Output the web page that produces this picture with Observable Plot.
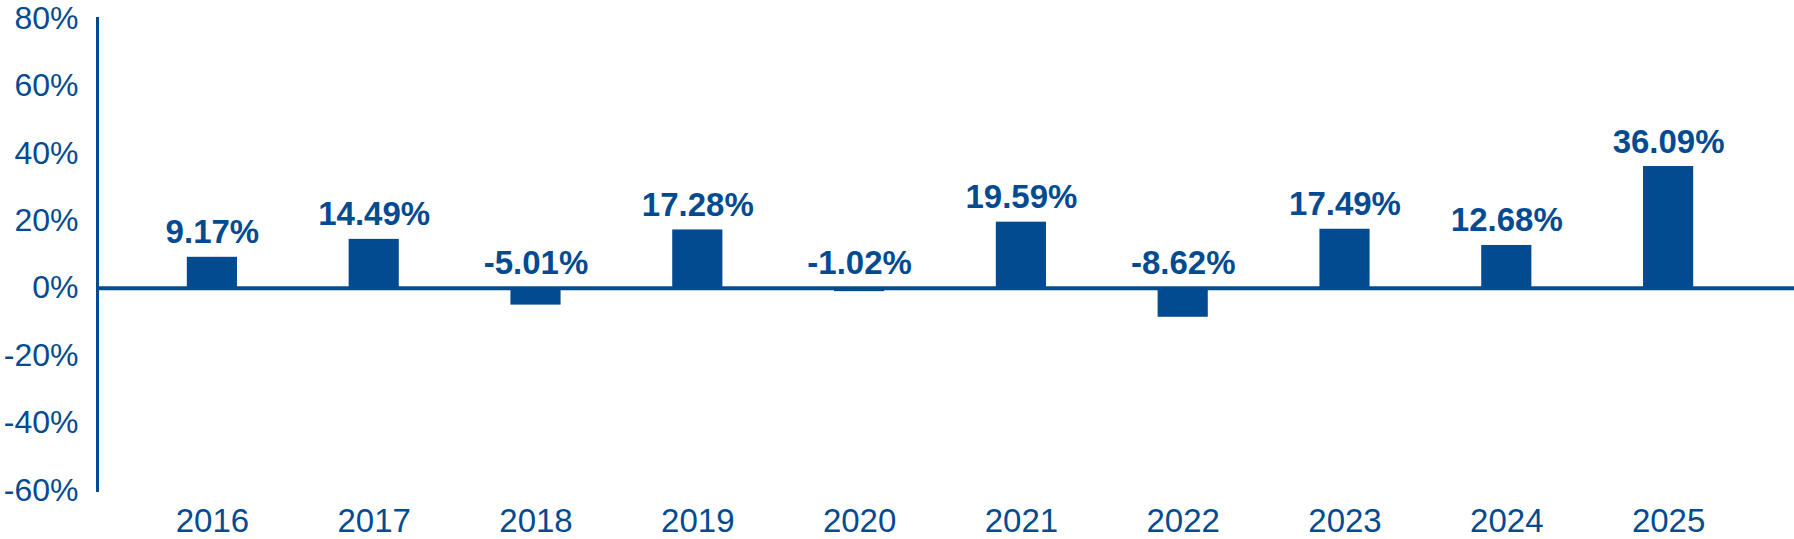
<!DOCTYPE html>
<html>
<head>
<meta charset="utf-8">
<script src="https://cdn.jsdelivr.net/npm/d3@7"></script>
<script src="https://cdn.jsdelivr.net/npm/@observablehq/plot@0.6"></script>
<style>
  html, body { margin: 0; padding: 0; background: #ffffff; }
  #chart svg { display: block; }
</style>
</head>
<body>
<div id="chart"></div>
<script>
const years = ["2016", "2017", "2018", "2019", "2020", "2021", "2022", "2023", "2024", "2025"];
const returns = [9.17, 14.49, -5.01, 17.28, -1.02, 19.59, -8.62, 17.49, 12.68, 36.09];
const yTicks = [-60, -40, -20, 0, 20, 40, 60, 80];

const blue = "#034b91";
const data = years.map((year, i) => ({year, value: returns[i]}));

const chart = Plot.plot({
  width: 1794,
  height: 539,
  marginLeft: 97,
  marginRight: 0,
  marginTop: 18,
  marginBottom: 49,
  style: {background: "#ffffff", color: blue, fontFamily: "'Liberation Sans', Arial, sans-serif"},
  x: {domain: years, range: [131, 1749], paddingInner: 0.69, paddingOuter: 0.345, round: false, label: null},
  y: {domain: [-60, 80], label: null},
  marks: [
    Plot.barY(data, {x: "year", y: "value", fill: blue}),
    Plot.ruleY([0], {stroke: blue, strokeWidth: 4}),
    Plot.frame({anchor: "left", stroke: blue, strokeWidth: 3}),
    Plot.axisY({ticks: yTicks, tickSize: 0, tickPadding: 19, tickFormat: d => d + "%", fontSize: 32, fill: blue, label: null}),
    Plot.axisX({tickSize: 0, tickPadding: 18, fontSize: 33, fill: blue, label: null}),
    Plot.text(data, {
      x: "year",
      y: d => Math.max(d.value, 0),
      text: d => d.value.toFixed(2) + "%",
      lineAnchor: "bottom",
      dy: -14,
      fontSize: 33,
      fontWeight: "bold",
      fill: blue
    })
  ]
});
document.getElementById("chart").appendChild(chart);
</script>
</body>
</html>
